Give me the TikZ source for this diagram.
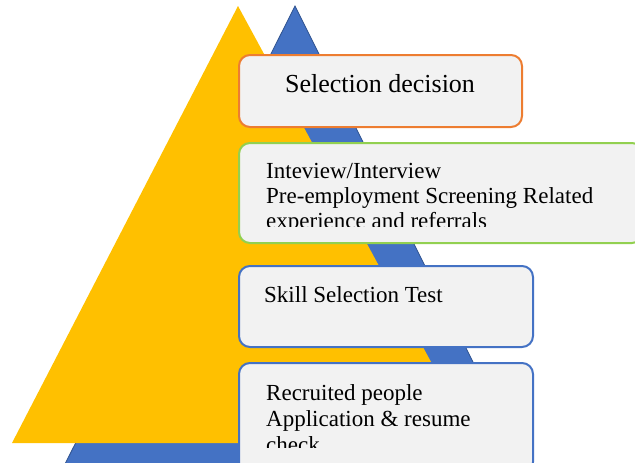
\documentclass[tikz,border=0pt]{standalone}
\usepackage{fontspec}
\setmainfont{Liberation Serif}
\usetikzlibrary{positioning}
\definecolor{gold}{HTML}{FFC000}
\definecolor{royal}{HTML}{4472C4}
\definecolor{navy}{HTML}{2F528F}
\definecolor{tangerine}{HTML}{ED7D31}
\definecolor{lime}{HTML}{92D050}
\definecolor{paper}{HTML}{F2F2F2}
\tikzset{
  stage/.style={draw, line width=2pt, fill=paper, rounded corners=11pt, anchor=north west},
  stageline/.style={anchor=base west, inner sep=0pt, font=\fontsize{23}{25}\selectfont},
}
\begin{document}
\begin{tikzpicture}[x=1pt, y=-1pt]
\useasboundingbox (0,0) rectangle (635,463);
% the two triangles
\fill[royal, draw=navy, thick] (295,6) -- (532,480) -- (57,480) -- cycle;
\fill[gold] (238,6) -- (475,443) -- (12,443) -- cycle;
% the four stages
\node[stage, draw=tangerine, minimum width=283pt, minimum height=72pt] (decision) at (238,54) {};
\node[stage, draw=lime, minimum width=404pt, minimum height=100pt] (interview) at (238,142) {};
\node[stage, draw=royal, minimum width=294pt, minimum height=81pt] (skill) at (238,265) {};
\node[stage, draw=royal, minimum width=294pt, minimum height=110pt] (recruit) at (238,362) {};
\node[anchor=base, inner sep=0pt, font=\fontsize{26}{28}\selectfont] (decisiontext) at (380,92) {Selection decision};
\begin{scope}
\clip (250,150) rectangle (630,226);
\node[stageline] (interviewa) at (266,178) {Inteview/Interview};
\node[stageline] (interviewb) at (266,203) {Pre-employment Screening Related};
\node[stageline] (interviewc) at (266,228) {experience and referrals};
\end{scope}
\node[stageline] (skilltext) at (264,302) {Skill Selection Test};
\begin{scope}
\clip (250,370) rectangle (520,447);
\node[stageline] (recruita) at (266,400) {Recruited people};
\node[stageline] (recruitb) at (266,426) {Application \& resume};
\node[stageline] (recruitc) at (266,452) {check};
\end{scope}
\end{tikzpicture}
\end{document}
